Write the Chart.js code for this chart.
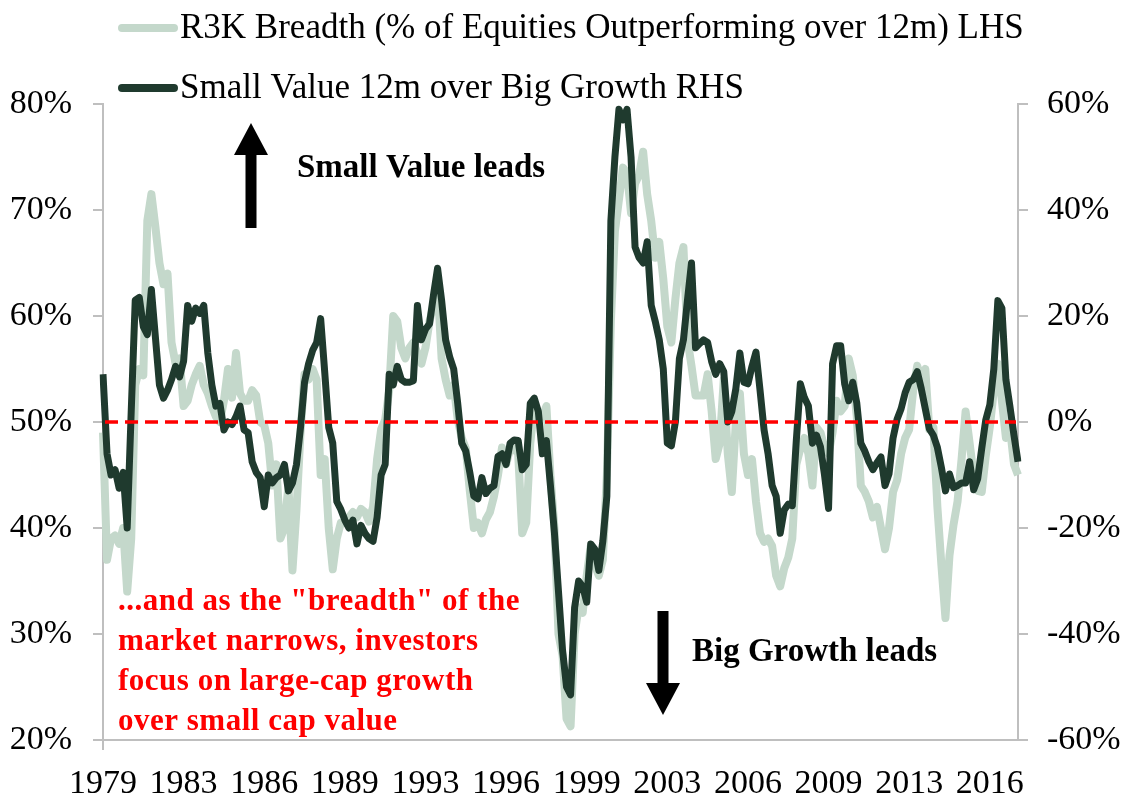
<!DOCTYPE html>
<html>
<head>
<meta charset="utf-8">
<script src="https://cdn.jsdelivr.net/npm/chart.js@4.4.0/dist/chart.umd.min.js"></script>
<style>
  html, body { margin: 0; padding: 0; background: #fff; }
  #wrap { width: 1125px; height: 801px; }
</style>
</head>
<body>
<div id="wrap"><canvas id="chart" width="1125" height="801"></canvas></div>
<script>
// one label every 40 months (20 bimonthly points)
const tickYears = ['1979', '1983', '1986', '1989', '1993', '1996', '1999', '2003', '2006', '2009', '2013', '2016']

const seriesNames = [
    'R3K Breadth (% of Equities Outperforming over 12m) LHS',
    'Small Value 12m over Big Growth RHS'
]

// R3K breadth, % (left axis), bimonthly from late 1979
const breadth = [
    49, 37, 39, 39.3, 38.5, 40, 34, 39, 53.5, 55, 54.4, 69, 71.5, 68.4, 65, 63, 64, 57.5, 55.5, 56,
    51.5, 52, 53.5, 54.5, 55.3, 53.5, 52.7, 51.5, 50.5, 50, 52, 55, 52.3, 56.5, 52.7, 52, 52, 53, 52.5, 50,
    49.7, 48, 44, 46, 39, 40, 44, 36, 41.7, 49, 54.5, 54, 55, 54, 45, 46.5, 40, 36.1, 39, 40.5,
    40.5, 41, 41.5, 41, 41.8, 41.5, 40.6, 42, 46.5, 49.3, 50.2, 53, 60, 59.5, 57, 56, 57, 57.5, 56.5, 55.5,
    57, 59.5, 61, 63, 56, 54, 52.5, 53.5, 50.2, 48.5, 47.5, 43.5, 40, 40.5, 39.5, 40.8, 41.5, 43, 45, 47.6,
    46, 47.5, 47.5, 47, 39.5, 40.5, 48, 51.5, 50.6, 50.5, 51.5, 45, 40, 30, 28, 22, 21.3, 30, 32.5, 32,
    35.5, 38.3, 36.5, 35.5, 37, 45, 59.5, 68, 71, 74, 73.5, 69.7, 72.5, 73.3, 75.5, 71.5, 69, 65.5, 67, 63.5,
    59, 57.5, 61.6, 65, 66.5, 57.8, 55.3, 52.5, 52.5, 52.5, 54.5, 51, 46.5, 48, 54, 47, 43.4, 50, 52.7, 47,
    45, 46.5, 42.5, 39.5, 38.7, 39, 38.3, 35.5, 34.5, 36.2, 37.2, 39, 46, 47.5, 48.5, 47, 44, 49.5, 49, 47.5,
    47, 49, 52, 51, 51.5, 56, 54.4, 50.5, 44, 43.4, 42.5, 41, 42, 40, 38, 40, 43.4, 44.5, 47, 48.5,
    49.3, 53, 55.3, 54, 55, 49.3, 49.5, 42, 36.5, 31.5, 37.4, 40.3, 42.5, 46.5, 51, 48, 45, 43.5, 43.4, 46.8,
    49.5, 53, 55.5, 52, 48.5, 49.5, 46, 45
]

// small value vs big growth 12m relative return, % (right axis)
const smallValue = [
    9, -6, -10, -9, -12.5, -9.5, -20, 2, 23, 23.5, 18, 16.5, 25, 16, 7, 4.5, 6, 8, 10.5, 8.5,
    11.5, 22, 19, 21.5, 20.5, 22, 13, 7, 3, 3.5, -1.5, 0, -0.5, 1, 3, -1.5, -2, -7.5, -9.5, -10.5,
    -16, -10, -11.5, -10.5, -10, -8, -13, -11.5, -8, -1, 7.5, 11, 13.5, 15, 19.5, 9.5, -1, -4, -15, -16.5,
    -18.5, -20, -18.5, -23, -19.5, -21, -22, -22.5, -18, -10, -8, 9, 7, 10.5, 8, 7.5, 7.5, 7.8, 22, 15.5,
    17.5, 18.5, 24, 29, 23, 15.5, 12.3, 10, 3.5, -4, -5.5, -9.5, -14, -14.5, -10.5, -13.5, -12.5, -12, -6.5, -6,
    -8, -4, -3.4, -3.5, -9, -8, 3.5, 4.5, 2, -6, -3.5, -12, -21, -32, -43, -50, -51.5, -35, -30, -31,
    -34, -23, -24, -28, -22.5, -14, 38, 50, 59, 57, 59, 50, 33, 31, 30, 34, 22, 19, 15.5, 10,
    -4, -4.5, 0, 12, 15.5, 23, 30, 14, 14.8, 15.5, 15, 11.4, 9, 11, 9.5, 0, 2, 6.3, 13, 7.5,
    7.2, 10.5, 13.2, 6, -1.5, -6, -12, -14, -21, -16.6, -15.5, -15.8, -3.5, 7.2, 4.6, 3, -4, -2.5, -4.7, -10,
    -16.3, 11, 14.4, 14.4, 7.2, 4, 7.5, 3.6, -4, -5.5, -7.5, -9, -7.7, -6.6, -12, -9.8, -3, 0.5, 2.5, 5.5,
    7.5, 8, 9.5, 6.3, 2.5, -1.3, -2.5, -4.8, -8.6, -13, -9.8, -12.4, -12, -11.5, -11.5, -7.5, -12.8, -10.7, -5, 0.4,
    3.2, 10, 22.9, 21.5, 8, 2.9, -2.5, -7.5
]

const redNote = [
    '...and as the "breadth" of the',
    'market narrows, investors',
    'focus on large-cap growth',
    'over small cap value'
]

const LIGHT = '#c4d8cb'
const DARK = '#1f3a2e'
const AXIS = '#bfbfbf'
const FONT = '"Liberation Serif", "Times New Roman", serif'

const points = breadth.map((_, i) => i)

const arrow = (ctx, x, yFrom, yTip) => {
    const dir = Math.sign(yTip - yFrom)
    const head = 32, half = 17, shaft = 5.5
    const yb = yTip - dir * head
    ctx.fillStyle = '#000'
    ctx.beginPath()
    ctx.moveTo(x - shaft, yFrom)
    ctx.lineTo(x - shaft, yb)
    ctx.lineTo(x - half, yb)
    ctx.lineTo(x, yTip)
    ctx.lineTo(x + half, yb)
    ctx.lineTo(x + shaft, yb)
    ctx.lineTo(x + shaft, yFrom)
    ctx.closePath()
    ctx.fill()
}

const extras = {
    id: 'extras',
    afterDatasetsDraw(chart) {
        const { ctx, chartArea: a, scales } = chart
        const y0 = scales.y2.getPixelForValue(0)
        ctx.save()
        ctx.strokeStyle = '#ff0000'
        ctx.lineWidth = 3.5
        ctx.setLineDash([13, 7])
        ctx.beginPath()
        ctx.moveTo(a.left + 2, y0)
        ctx.lineTo(a.right - 2, y0)
        ctx.stroke()
        ctx.restore()
    },
    afterDraw(chart) {
        const { ctx } = chart
        ctx.save()
        // legend, two left-aligned rows
        seriesNames.forEach((name, i) => {
            const y = 28 + i * 60
            ctx.strokeStyle = i === 0 ? LIGHT : DARK
            ctx.lineWidth = 8
            ctx.lineCap = 'round'
            ctx.beginPath()
            ctx.moveTo(122, y)
            ctx.lineTo(174, y)
            ctx.stroke()
            ctx.fillStyle = '#000'
            ctx.font = '35px ' + FONT
            ctx.textAlign = 'left'
            ctx.textBaseline = 'middle'
            ctx.fillText(name, 180, y + 1)
        })

        arrow(ctx, 251, 228, 123)
        arrow(ctx, 663, 611, 715)

        ctx.fillStyle = '#000'
        ctx.font = 'bold 33px ' + FONT
        ctx.textBaseline = 'middle'
        ctx.fillText('Small Value leads', 297, 168)
        ctx.fillText('Big Growth leads', 692, 652)

        ctx.fillStyle = '#ff0000'
        ctx.font = 'bold 31px ' + FONT
        ctx.letterSpacing = '0.5px'
        redNote.forEach((line, i) => ctx.fillText(line, 118, 602 + i * 40))
        ctx.restore()
    }
}

const tickFont = { family: FONT, size: 34 }

new Chart(document.getElementById('chart'), {
    type: 'line',
    data: {
        labels: points,
        datasets: [{
            label: seriesNames[0],
            data: breadth,
            yAxisID: 'y',
            borderColor: LIGHT,
            borderWidth: 8,
            pointRadius: 0,
            borderJoinStyle: 'round',
            tension: 0,
            order: 2
        },
        {
            label: seriesNames[1],
            data: smallValue,
            yAxisID: 'y2',
            borderColor: DARK,
            borderWidth: 7,
            pointRadius: 0,
            borderJoinStyle: 'round',
            tension: 0,
            order: 1
        }]
    },
    options: {
        responsive: false,
        animation: false,
        layout: { padding: { top: 104, left: 0, right: 0, bottom: 0 } },
        plugins: {
            legend: { display: false },
            tooltip: { enabled: false }
        },
        scales: {
            x: {
                type: 'category',
                offset: false,
                grid: {
                    drawOnChartArea: false,
                    tickLength: 10,
                    lineWidth: 2,
                    color: AXIS,
                    tickColor: (c) => (c.index % 20 === 0 ? AXIS : 'rgba(0,0,0,0)')
                },
                border: { display: true, color: AXIS, width: 2 },
                ticks: {
                    autoSkip: false,
                    maxRotation: 0,
                    minRotation: 0,
                    padding: 14,
                    color: '#000',
                    font: tickFont,
                    callback: (v, i) => (i % 20 === 0 ? tickYears[i / 20] : null)
                },
                afterFit: (s) => { s.height = 61 }
            },
            y: {
                position: 'left',
                min: 20,
                max: 80,
                grid: { drawOnChartArea: false, tickLength: 10, lineWidth: 2, color: AXIS },
                border: { display: true, color: AXIS, width: 2 },
                ticks: {
                    stepSize: 10,
                    padding: 21,
                    color: '#000',
                    font: tickFont,
                    callback: (v) => v + '%'
                },
                afterFit: (s) => { s.width = 103 }
            },
            y2: {
                position: 'right',
                min: -60,
                max: 60,
                grid: { drawOnChartArea: false, tickLength: 10, lineWidth: 2, color: AXIS },
                border: { display: true, color: AXIS, width: 2 },
                ticks: {
                    stepSize: 20,
                    padding: 19,
                    color: '#000',
                    font: tickFont,
                    callback: (v) => v + '%'
                },
                afterFit: (s) => { s.width = 107 }
            }
        }
    },
    plugins: [extras]
})
</script>
</body>
</html>
